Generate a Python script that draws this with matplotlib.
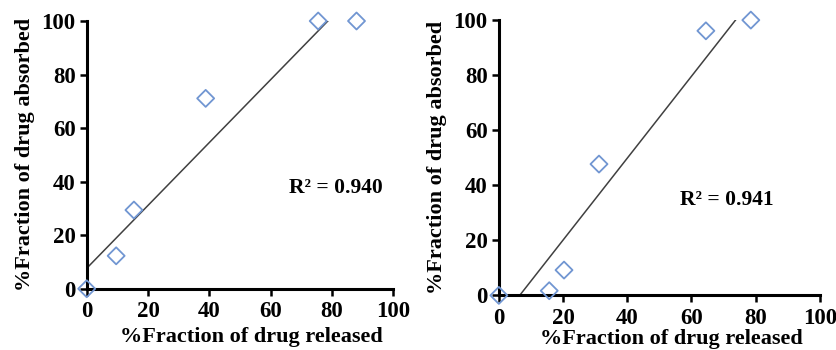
import numpy as np
import matplotlib
matplotlib.use("Agg")
from matplotlib import pyplot as plt

# left panel data
x_left = [0, 9.6, 15.4, 38.8, 75.5, 88.0]
y_left = [0, 12.3, 29.4, 71.1, 100, 100]
# right panel data
x_right = [0, 15.7, 20.3, 31.2, 64.5, 78.5]
y_right = [0, 1.7, 9.2, 47.7, 96.1, 100]

r2_labels = ["R\u00b2 = 0.940", "R\u00b2 = 0.941"]
ticks = [0, 20, 40, 60, 80, 100]

plt.rcParams['font.family'] = ['Liberation Serif', 'DejaVu Serif']
plt.rcParams['font.weight'] = 'bold'

fig = plt.figure(figsize=(8.37, 3.5), dpi=100)
ax1 = fig.add_axes([0.1036, 0.175, 0.3663, 0.765])
ax2 = fig.add_axes([0.596, 0.156, 0.3835, 0.7866])

panels = [
    (ax1, x_left, y_left, r2_labels[0], (66.0, 37.6), (-0.20, 0.537, -0.182)),
    (ax2, x_right, y_right, r2_labels[1], (56.5, 34.6), (-0.193, 0.537, -0.160)),
]

for ax, xs, ys, r2, pos, lab_pos in panels:
    xs = np.array(xs)
    ys = np.array(ys)
    # linear trendline
    k, b = np.polyfit(xs, ys, 1)
    xl = np.linspace(0, xs.max(), 200)
    ax.plot(xl, k * xl + b, color='#404040', lw=1.1)
    ax.scatter(xs, ys, marker='D', s=75, facecolors='none',
               edgecolors='#7196D2', linewidths=1.3, clip_on=False, zorder=3)

    ax.set_xlim(0, 100)
    ax.set_ylim(0, 100)
    ax.set_xticks(ticks)
    ax.set_yticks(ticks)
    for s in ['top', 'right']:
        ax.spines[s].set_visible(False)
    for s in ['left', 'bottom']:
        ax.spines[s].set_linewidth(2.2)
    ax.tick_params(direction='out', length=5, width=1.8, labelsize=16.5, pad=3)
    ax.tick_params(axis='x', pad=4)
    for lab in ax.get_xticklabels() + ax.get_yticklabels():
        lab.set_fontweight('bold')
    ax.set_xlabel('%Fraction of drug released', fontsize=16, fontweight='bold')
    ax.set_ylabel('%Fraction of drug absorbed', fontsize=16, fontweight='bold')
    ax.yaxis.set_label_coords(lab_pos[0], 0.5)
    ax.xaxis.set_label_coords(lab_pos[1], lab_pos[2])
    ax.xaxis.label.set_va('center')
    ax.yaxis.label.set_va('center')
    ax.text(pos[0], pos[1], r2, fontsize=15.5, fontweight='bold', va='center')

fig.savefig('out.png', dpi=100)
